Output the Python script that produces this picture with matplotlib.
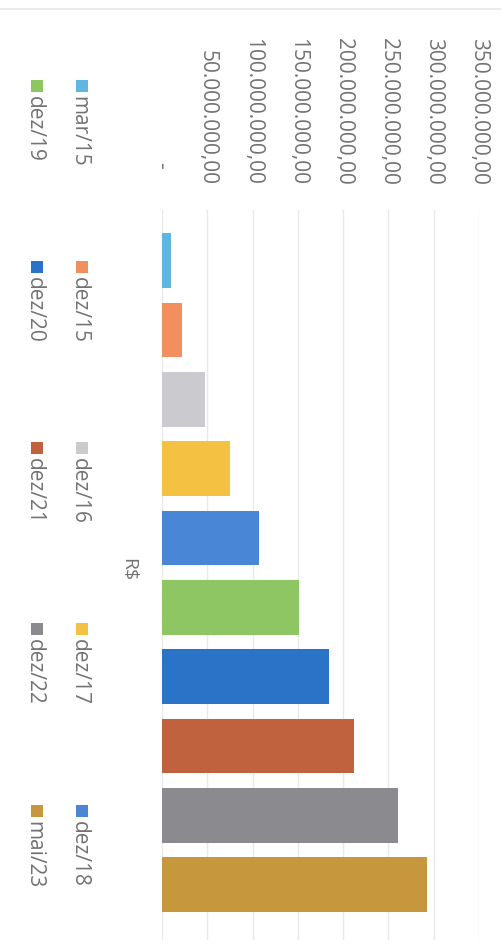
import matplotlib
matplotlib.use("Agg")
import matplotlib.pyplot as plt
from matplotlib.patches import Rectangle
from matplotlib.lines import Line2D

plt.rcParams['font.family'] = ['Open Sans', 'DejaVu Sans']

# ---- data ----
categories = ["mar/15", "dez/15", "dez/16", "dez/17", "dez/18",
              "dez/19", "dez/20", "dez/21", "dez/22", "mai/23"]
values = [10e6, 22e6, 47e6, 75e6, 107e6, 151e6, 184e6, 212e6, 261e6, 293e6]
colors = ["#5fb6e2", "#f28f5f", "#cbcbcf", "#f5c143", "#4a86d6",
          "#8fc664", "#2b73c6", "#bf623d", "#8b8b8f", "#c6973c"]
tick_values = [0, 50e6, 100e6, 150e6, 200e6, 250e6, 300e6, 350e6]
tick_labels = ["-   ", "50.000.000,00", "100.000.000,00", "150.000.000,00",
               "200.000.000,00", "250.000.000,00", "300.000.000,00",
               "350.000.000,00"]
axis_title = "R$"

W, H = 501, 944
fig = plt.figure(figsize=(W / 100, H / 100), dpi=100)
fig.patch.set_facecolor("white")

def fx(px):
    return px / W

def fy(py):
    return 1 - py / H

# axes occupying pixel box x 162..479, y 210..940
ax = fig.add_axes([fx(162), fy(940), fx(479) - fx(162), fy(210) - fy(940)])
ypos = list(range(len(categories)))
ax.barh(ypos, values, height=0.79, color=colors, zorder=3)
ax.set_xlim(0, 350e6)
ax.set_ylim(9.80, -0.73)

ax.xaxis.tick_top()
ax.set_xticks(tick_values)
ax.set_xticklabels(tick_labels, rotation=-90, fontsize=15, color="#727272")
ax.tick_params(axis="x", length=0, pad=18)
ax.set_yticks([])
ax.grid(axis="x", color="#e9e9e9", linewidth=1, zorder=0)
for s in ax.spines.values():
    s.set_visible(False)

ax.set_ylabel(axis_title, rotation=-90, fontsize=14, color="#727272",
              ha="center", va="center")
ax.yaxis.set_label_coords(-0.108, 0.507)

# ---- legend (rotated, drawn manually) ----
col_x = [82, 37]
row_y = [80, 261, 442, 623, 805]
for i, (cat, col) in enumerate(zip(categories, colors)):
    cx = col_x[i // 5]
    y0 = row_y[i % 5]
    fig.add_artist(Rectangle((fx(cx - 6), fy(y0 + 12)), fx(12), 12 / H,
                             transform=fig.transFigure, facecolor=col,
                             edgecolor="none"))
    fig.text(fx(cx - 3), fy(y0 + 16), cat, rotation=-90, ha="center",
             va="top", fontsize=15, color="#727272")

# faint scan edge at top
fig.add_artist(Line2D([0, 1], [fy(9), fy(9)], transform=fig.transFigure,
                      color="#ececec", linewidth=1.5))

fig.savefig("out.png", dpi=100)
